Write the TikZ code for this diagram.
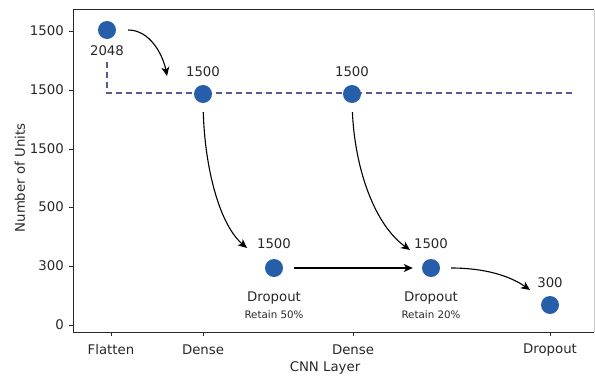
\documentclass[tikz,border=0pt]{standalone}
\usepackage{fontspec}
\setmainfont{DejaVu Sans}
\usetikzlibrary{arrows.meta}
\definecolor{dotblue}{RGB}{38,94,170}
\definecolor{guideblue}{RGB}{88,88,150}
\definecolor{inkgray}{RGB}{40,40,40}

\begin{document}
\begin{tikzpicture}[x=1pt, y=-1pt,
    unit/.style={circle, fill=dotblue, inner sep=0pt, minimum size=18pt},
    txt/.style={font=\fontsize{13.3}{15}\selectfont, text=inkgray, inner sep=0pt},
    small/.style={font=\fontsize{10.3}{12}\selectfont, text=inkgray, inner sep=0pt},
    arr/.style={-{Stealth[length=9pt, width=8pt, inset=2.5pt]}, line width=1.1pt},
    guide/.style={guideblue, line width=1.1pt, dash pattern=on 6pt off 4pt},
    frame/.style={line width=1pt, inkgray}]
    \useasboundingbox (0,0) rectangle (595,378);

    % axes box
    \draw[frame] (73,9.5) -- (73,332) -- (594,332);
    \draw[frame] (73,9.5) -- (594,9.5);
    \draw[black!20, line width=0.8pt] (594,9.5) -- (594,332);

    % y ticks
    \draw[frame] (69,31) -- (73,31);
    \draw[frame] (69,90) -- (73,90);
    \draw[frame] (69,149) -- (73,149);
    \draw[frame] (69,207) -- (73,207);
    \draw[frame] (69,266) -- (73,266);
    \draw[frame] (69,325) -- (73,325);
    \node (y1) at (64,31) [txt, anchor=east] {1500};
    \node (y2) at (64,90) [txt, anchor=east] {1500};
    \node (y3) at (64,149) [txt, anchor=east] {1500};
    \node (y4) at (64,207) [txt, anchor=east] {500};
    \node (y5) at (64,266) [txt, anchor=east] {300};
    \node (y6) at (64,325) [txt, anchor=east] {0};

    % x ticks
    \draw[frame] (111,332) -- (111,336);
    \draw[frame] (203,332) -- (203,336);
    \draw[frame] (353,332) -- (353,336);
    \draw[frame] (550,332) -- (550,336);
    \node (x1) at (111,350) [txt] {Flatten};
    \node (x2) at (203,350) [txt] {Dense};
    \node (x3) at (353,350) [txt] {Dense};
    \node (x4) at (550,350) [txt] {Dropout};

    \node (xlabel) at (325,368) [txt] {CNN Layer};
    \node (ylabel) at (20,178) [txt, rotate=90] {Number of Units};

    % reference level
    \coordinate (g0) at (107,62);
    \coordinate (g1) at (574,93);
    \draw[guide] (g0) |- (g1);

    % layers
    \node (flat) at (107,30) [unit] {};
    \node (dense1) at (203,94) [unit] {};
    \node (dense2) at (352,94) [unit] {};
    \node (drop1) at (274,268) [unit] {};
    \node (drop2) at (431,268) [unit] {};
    \node (drop3) at (550,305) [unit] {};

    \node (n0) at (107,51) [txt] {2048};
    \node (n1) at (203,72) [txt] {1500};
    \node (n2) at (352,72) [txt] {1500};
    \node (n3) at (274,244) [txt] {1500};
    \node (n4) at (431,244) [txt] {1500};
    \node (n5) at (550,283) [txt] {300};

    \node (d1) at (274,298) [txt] {Dropout};
    \node (r1) at (274,315) [small] {Retain 50\%};
    \node (d2) at (431,298) [txt] {Dropout};
    \node (r2) at (431,315) [small] {Retain 20\%};

    % arrows
    \coordinate (e1) at (167,76);
    \coordinate (e2) at (247,248);
    \coordinate (e3) at (410,250);
    \coordinate (e5) at (530,290);
    \draw[arr, shorten <=12pt] (flat.east) .. controls (150,30) and (163,55) .. (e1);
    \draw[arr, shorten <=9pt] (dense1.south) .. controls (205,170) and (220,225) .. (e2);
    \draw[arr, shorten <=9pt] (dense2.south) .. controls (355,170) and (375,225) .. (e3);
    \draw[arr, shorten <=11pt, shorten >=9pt] (drop1.east) -- (drop2.west);
    \draw[arr, shorten <=11pt] (drop2.east) .. controls (485,268) and (510,276) .. (e5);
\end{tikzpicture}
\end{document}
